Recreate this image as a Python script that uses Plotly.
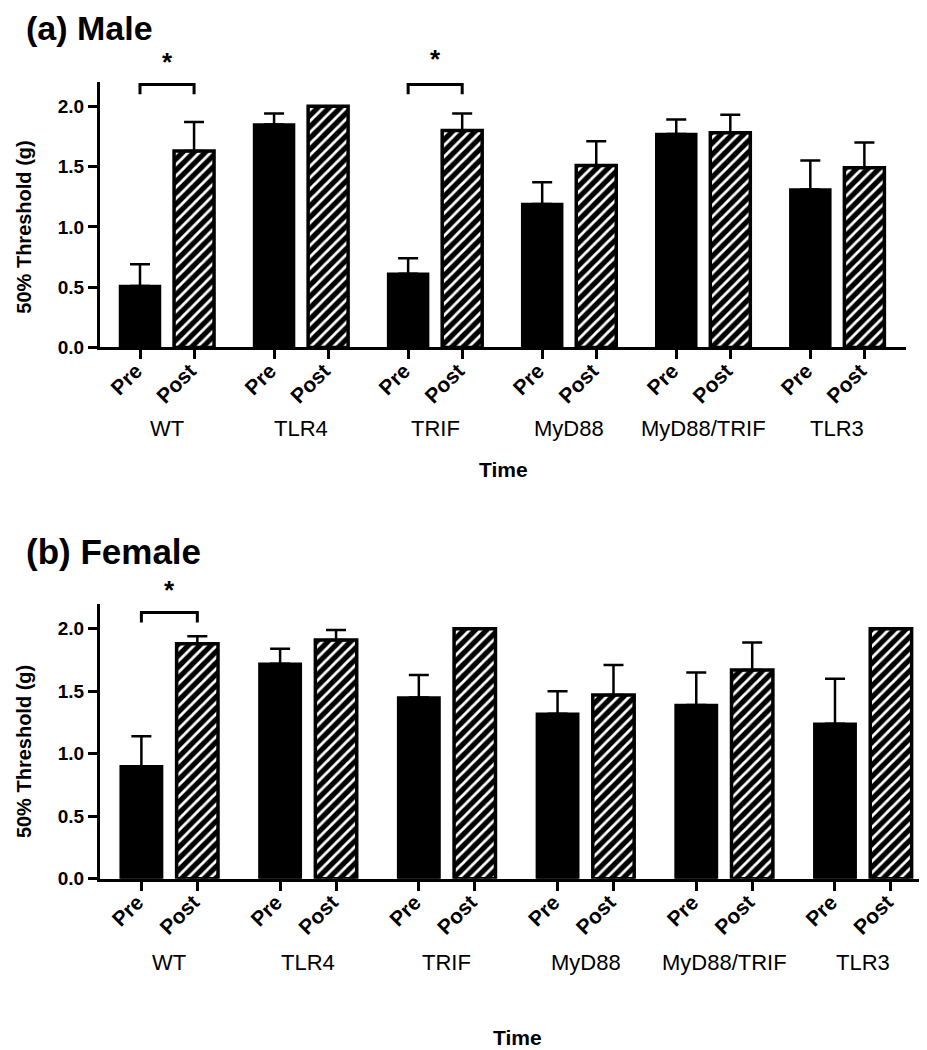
import plotly.graph_objects as go

groups = ["WT", "TLR4", "TRIF", "MyD88", "MyD88/TRIF", "TLR3"]
time_labels = ["Pre", "Post"]

male_pre = [0.51, 1.85, 0.61, 1.19, 1.77, 1.31]
male_pre_err = [0.18, 0.09, 0.13, 0.18, 0.12, 0.24]
male_post = [1.63, 2.00, 1.80, 1.51, 1.78, 1.49]
male_post_err = [0.24, 0.00, 0.14, 0.20, 0.15, 0.21]

female_pre = [0.90, 1.72, 1.45, 1.32, 1.39, 1.24]
female_pre_err = [0.24, 0.12, 0.18, 0.18, 0.26, 0.36]
female_post = [1.88, 1.91, 2.00, 1.47, 1.67, 2.00]
female_post_err = [0.06, 0.08, 0.00, 0.24, 0.22, 0.00]

y_ticks = [0.0, 0.5, 1.0, 1.5, 2.0]

W, H = 927, 1050
FONT = "Liberation Sans, Arial, Helvetica, sans-serif"

def px_x(p):
    return p / W

def px_y(p):
    return 1 - p / H

GROUP_STEP = 2.48
x_pre = [i * GROUP_STEP for i in range(len(groups))]
x_post = [x + 1 for x in x_pre]
BAR_W = 0.74

fig = go.Figure()

def add_panel(pre, pre_err, post, post_err, xa, ya):
    fig.add_trace(go.Bar(
        x=x_pre, y=pre, width=BAR_W, xaxis=xa, yaxis=ya,
        marker=dict(color="black", line=dict(color="black", width=2.5)),
        error_y=dict(type="data", symmetric=False, array=pre_err,
                     arrayminus=[0] * len(pre), color="black",
                     thickness=2.5, width=10),
        showlegend=False, name="Pre"))
    fig.add_trace(go.Bar(
        x=x_post, y=post, width=BAR_W, xaxis=xa, yaxis=ya,
        marker=dict(color="black", line=dict(color="black", width=3.5),
                    pattern=dict(shape="/", fgcolor="white", bgcolor="black",
                                 fgopacity=1, size=8, solidity=0.35)),
        error_y=dict(type="data", symmetric=False, array=post_err,
                     arrayminus=[0] * len(post), color="black",
                     thickness=2.5, width=10),
        showlegend=False, name="Post"))

add_panel(male_pre, male_pre_err, male_post, male_post_err, "x", "y")
add_panel(female_pre, female_pre_err, female_post, female_post_err, "x2", "y2")

tickvals = []
ticktext = []
for a, b in zip(x_pre, x_post):
    tickvals += [a, b]
    ticktext += time_labels

xcommon = dict(range=[-0.74, 14.17], tickvals=tickvals, ticktext=ticktext,
               tickangle=-45, ticks="outside", ticklen=9, tickwidth=3,
               tickcolor="black", showline=True, linewidth=3, linecolor="black",
               showgrid=False, zeroline=False,
               ticklabelstandoff=-9, ticklabelshift=-4,
               tickfont=dict(family=FONT, size=21, color="black", weight="bold"))
ycommon = dict(range=[0, 2.2], tickvals=y_ticks, tickformat=".1f",
               ticks="outside", ticklen=9, tickwidth=3, tickcolor="black",
               showline=True, linewidth=3, linecolor="black",
               showgrid=False, zeroline=False,
               tickfont=dict(family=FONT, size=19, color="black", weight="bold"))

fig.update_layout(
    width=W, height=H, margin=dict(l=0, r=0, t=0, b=0),
    paper_bgcolor="white", plot_bgcolor="white",
    barmode="overlay",
    xaxis=dict(domain=[px_x(92), px_x(898)], anchor="y", **xcommon),
    yaxis=dict(domain=[px_y(343), px_y(75)], anchor="x", **ycommon),
    xaxis2=dict(domain=[px_x(92), px_x(926)], anchor="y2", **xcommon),
    yaxis2=dict(domain=[px_y(880), px_y(602)], anchor="x2", **ycommon),
    font=dict(family=FONT, color="black"),
)

ann = []
# panel titles
ann.append(dict(text="<b>(a) Male</b>", x=px_x(16), y=px_y(20), xref="paper", yref="paper",
                xanchor="left", yanchor="middle", showarrow=False,
                font=dict(family=FONT, size=34, color="black")))
ann.append(dict(text="<b>(b) Female</b>", x=px_x(16), y=px_y(549), xref="paper", yref="paper",
                xanchor="left", yanchor="middle", showarrow=False,
                font=dict(family=FONT, size=35, color="black")))
# y titles
for yc in (222, 752):
    ann.append(dict(text="<b>50% Threshold (g)</b>", x=px_x(16), y=px_y(yc),
                    xref="paper", yref="paper", textangle=-90,
                    xanchor="center", yanchor="middle", showarrow=False,
                    font=dict(family=FONT, size=20, color="black")))
# group labels
for xa, ypix in (("x", 425), ("x2", 965)):
    for g, a, b in zip(groups, x_pre, x_post):
        ann.append(dict(text=g, x=(a + b) / 2, y=px_y(ypix), xref=xa, yref="paper",
                        xanchor="center", yanchor="middle", showarrow=False,
                        font=dict(family=FONT, size=22, color="black")))
# x titles
ann.append(dict(text="<b>Time</b>", x=px_x(495), y=px_y(466), xref="paper", yref="paper",
                xanchor="center", yanchor="middle", showarrow=False,
                font=dict(family=FONT, size=21, color="black")))
ann.append(dict(text="<b>Time</b>", x=px_x(509), y=px_y(1040), xref="paper", yref="paper",
                xanchor="center", yanchor="middle", showarrow=False,
                font=dict(family=FONT, size=21, color="black")))

# significance brackets
sig = [("x", "y", 0, 2.10, 2.18, 55), ("x", "y", 2, 2.10, 2.18, 52), ("x2", "y2", 0, 2.05, 2.13, 588)]
shapes = []
for xa, ya, gi, ylo, yhi, star_y in sig:
    a, b = x_pre[gi], x_post[gi]
    shapes.append(dict(type="path", xref=xa, yref=ya,
                       path=f"M {a} {ylo} L {a} {yhi} L {b} {yhi} L {b} {ylo}",
                       line=dict(color="black", width=3)))
    ann.append(dict(text="<b>*</b>", x=(a + b) / 2, y=px_y(star_y), xref=xa, yref="paper",
                    xanchor="center", yanchor="middle", showarrow=False,
                    font=dict(family=FONT, size=26, color="black")))

fig.update_layout(annotations=ann, shapes=shapes)
fig.write_html("out.html")
